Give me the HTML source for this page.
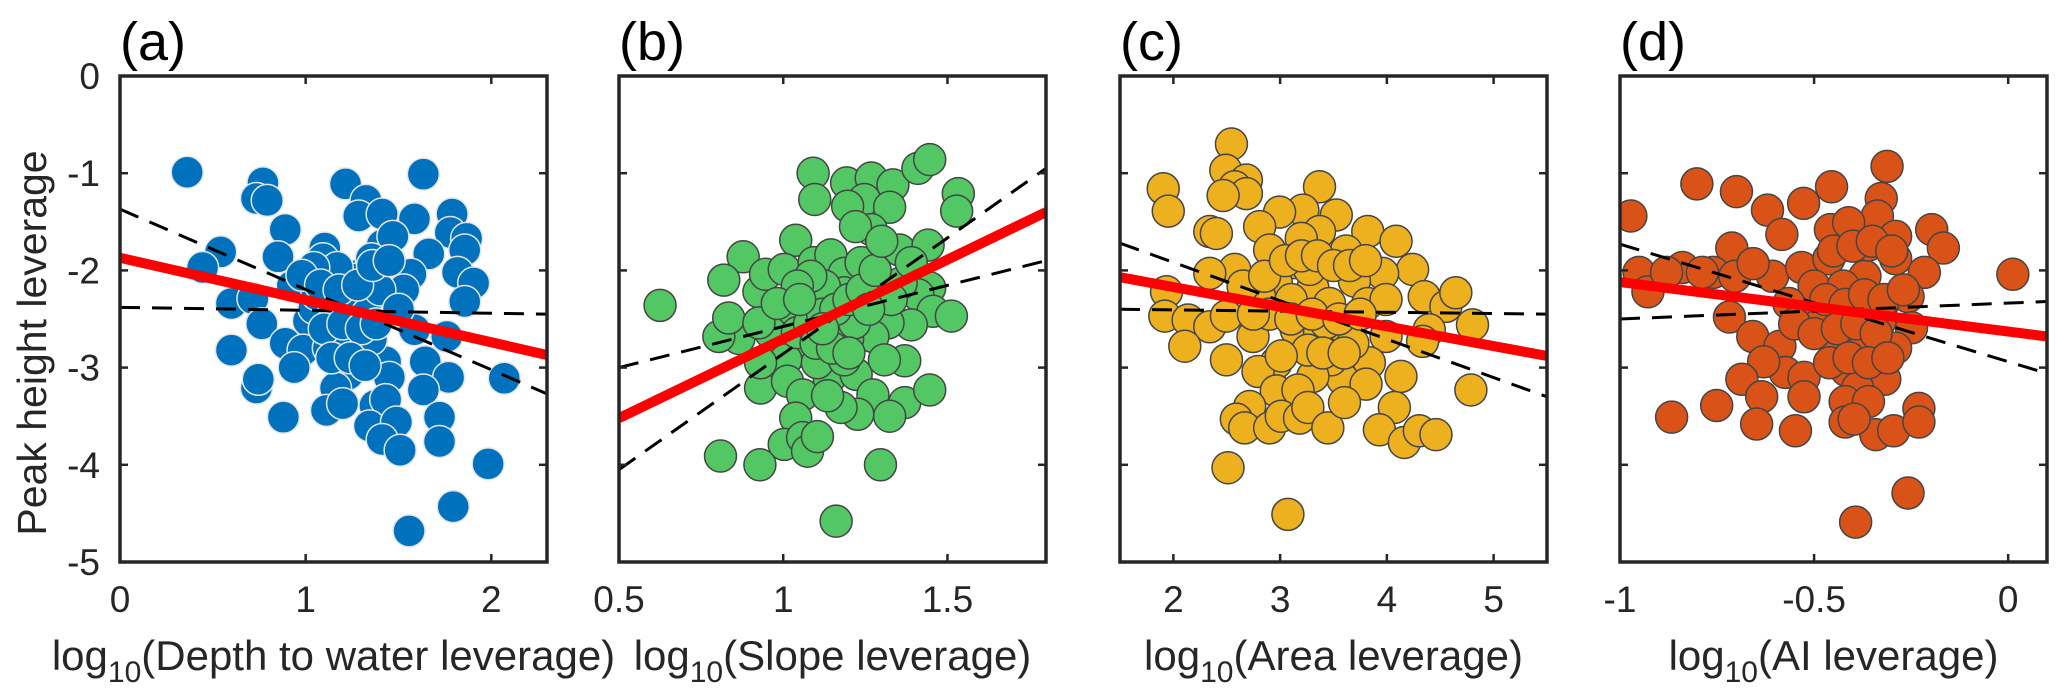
<!DOCTYPE html>
<html><head><meta charset="utf-8">
<style>
html,body{margin:0;padding:0;background:#fff;}
svg{display:block;font-family:"Liberation Sans",Arial,sans-serif;}
</style></head>
<body>
<svg id="fig" width="2067" height="699" viewBox="0 0 2067 699" xmlns="http://www.w3.org/2000/svg">
<text x="0" y="0" transform="translate(46,343) rotate(-90)" text-anchor="middle" font-size="41" fill="#262626">Peak height leverage</text>
</svg>
<script>
// Panel (a) data
const aX=[0.362,1.634,0.770,0.735,0.793,1.215,1.325,1.286,1.412,1.586,1.789,1.779,1.867,1.857,1.663,1.412,1.470,0.890,0.851,1.103,1.093,0.542,0.445,1.567,1.296,1.132,1.818,1.905,1.857,0.928,0.600,0.716,0.764,1.015,1.209,1.451,1.296,1.586,1.760,0.600,0.890,0.986,1.122,1.267,1.431,1.644,1.770,2.070,0.938,1.228,0.735,0.745,1.161,1.451,1.634,1.112,1.199,1.373,1.431,1.721,1.344,1.489,0.880,1.412,1.509,1.721,1.983,1.795,1.557,1.267,1.354,1.170,1.044,1.528,1.219,1.354,1.044,1.06,1.15,1.25,1.33,1.40,1.10,1.20,1.30,1.38,0.98,1.08,1.18,1.28,1.36,1.45,1.50,1.14,1.24,1.32];
const aY=[-0.99,-1.01,-1.10,-1.26,-1.28,-1.11,-1.28,-1.44,-1.42,-1.47,-1.42,-1.61,-1.67,-1.79,-1.83,-1.74,-1.65,-1.58,-1.86,-1.77,-1.88,-1.81,-1.97,-2.04,-2.04,-2.13,-2.02,-2.13,-2.32,-2.16,-2.34,-2.29,-2.55,-2.52,-2.48,-2.27,-2.39,-2.61,-2.68,-2.82,-2.75,-2.82,-2.80,-2.84,-2.94,-2.94,-3.10,-3.11,-3.00,-3.07,-3.21,-3.12,-3.21,-3.10,-3.23,-3.44,-3.37,-3.39,-3.33,-3.51,-3.60,-3.56,-3.51,-3.74,-3.85,-3.76,-3.99,-4.43,-4.68,-2.09,-1.88,-1.97,-1.97,-2.20,-2.71,-2.71,-2.39,-2.25,-2.35,-2.30,-2.45,-2.20,-2.60,-2.55,-2.60,-2.55,-2.05,-2.15,-2.20,-2.15,-1.95,-1.90,-2.40,-2.90,-2.90,-2.98];
// Panel (b) data
const bX=[0.625,1.091,1.096,1.193,1.268,1.334,1.410,1.446,1.533,1.528,1.247,1.324,1.196,1.268,1.038,0.878,0.819,0.926,0.946,1.003,1.094,1.145,1.186,1.237,1.354,1.441,1.446,1.410,1.456,1.512,1.390,1.319,1.273,1.196,1.145,1.084,1.064,1.023,0.962,0.865,0.804,0.834,0.926,1.054,1.008,0.931,1.013,1.059,1.140,1.222,1.273,1.370,1.370,1.446,1.324,1.227,1.176,1.038,1.003,1.059,1.074,0.809,0.929,1.296,1.161,1.104,1.135,1.308,1.247,1.186,1.125,1.084,1.043,0.982,0.931,1.043,1.135,1.217,1.288,1.359,1.390,1.329,1.104,1.186,1.08,1.12,1.16,1.20,1.24,1.10,1.15,1.20,1.26,1.05,1.12,1.28,1.22,1.30];
const bY=[-2.36,-1.00,-1.27,-1.10,-1.05,-1.12,-0.95,-0.86,-1.21,-1.39,-1.27,-1.35,-1.34,-1.58,-1.69,-1.86,-2.10,-2.22,-2.04,-1.99,-1.92,-1.84,-2.03,-1.92,-1.79,-1.74,-2.18,-2.25,-2.42,-2.47,-2.56,-2.54,-2.68,-2.71,-2.47,-2.34,-2.40,-2.47,-2.64,-2.70,-2.68,-2.49,-2.54,-2.83,-2.92,-3.21,-3.14,-3.28,-3.11,-3.07,-3.28,-2.93,-3.36,-3.23,-3.50,-3.48,-3.41,-3.52,-3.79,-3.72,-3.86,-3.91,-4.00,-4.00,-4.58,-3.71,-3.29,-2.92,-2.34,-2.23,-2.16,-2.06,-2.16,-2.34,-2.95,-2.64,-2.68,-2.54,-2.13,-2.13,-1.92,-2.30,-2.95,-2.92,-2.55,-2.45,-2.40,-2.30,-2.20,-2.75,-2.80,-2.85,-2.40,-2.30,-2.60,-2.00,-1.55,-1.70];
// Panel (c) data
const cX=[2.544,2.491,2.684,2.575,2.684,2.466,1.905,1.952,2.341,2.403,3.369,3.213,2.995,2.808,3.526,3.369,3.198,2.902,3.821,4.086,3.618,3.136,4.241,3.960,3.696,3.307,2.964,2.575,2.341,1.936,1.920,2.138,2.341,2.497,2.107,2.497,2.746,3.151,3.369,3.587,3.821,3.992,4.350,4.553,4.646,4.802,4.397,4.335,3.992,3.836,4.132,3.587,3.478,3.307,2.964,2.793,2.964,3.167,3.805,2.715,2.590,2.668,2.902,3.011,3.182,3.260,3.447,3.603,4.070,3.930,4.164,4.304,4.460,4.787,2.512,3.073,3.431,3.026,2.808,2.653,3.276,3.463,3.681,3.260,3.011,2.855,3.104,3.05,3.20,3.35,3.50,3.65,3.80,2.90,3.10,3.30,3.55,3.75,2.75,3.40,3.60];
const cY=[-0.70,-0.97,-1.07,-1.14,-1.21,-1.23,-1.16,-1.39,-1.60,-1.62,-1.14,-1.38,-1.40,-1.55,-1.43,-1.60,-1.67,-1.79,-1.60,-1.70,-1.80,-1.92,-1.99,-2.03,-2.11,-2.18,-2.13,-1.99,-2.03,-2.22,-2.47,-2.51,-2.58,-2.47,-2.78,-2.92,-2.68,-2.61,-2.64,-2.58,-2.34,-2.30,-2.27,-2.37,-2.23,-2.56,-2.61,-2.73,-2.68,-2.95,-3.09,-3.12,-2.92,-3.09,-2.95,-3.04,-3.24,-3.23,-3.17,-3.40,-3.53,-3.62,-3.62,-3.50,-3.52,-3.41,-3.62,-3.36,-3.41,-3.64,-3.77,-3.65,-3.69,-3.23,-4.03,-4.51,-2.54,-2.44,-2.27,-2.16,-1.99,-2.34,-2.75,-2.82,-2.88,-2.06,-2.30,-1.90,-1.85,-1.85,-1.95,-1.95,-1.90,-2.45,-2.50,-2.45,-2.50,-2.45,-2.45,-2.85,-2.85];
// Panel (d) data
const dX=[-0.972,-0.802,-0.700,-0.620,-0.527,-0.455,-0.312,-0.327,-0.337,-0.197,-0.167,-0.583,-0.458,-0.411,-0.712,-0.951,-0.928,-0.839,-0.760,-0.704,-0.607,-0.532,-0.462,-0.369,-0.290,-0.216,0.012,-0.258,-0.323,-0.462,-0.527,-0.718,-0.658,-0.588,-0.379,-0.249,-0.443,-0.309,-0.290,-0.574,-0.526,-0.630,-0.416,-0.318,-0.686,-0.388,-0.635,-0.526,-0.420,-0.360,-0.867,-0.751,-0.648,-0.548,-0.420,-0.341,-0.295,-0.230,-0.230,-0.397,-0.258,-0.393,-0.5,-0.425,-0.397,-0.49,-0.565,-0.33,-0.36,-0.29,-0.657,-0.788,-0.88,-0.45,-0.40,-0.35,-0.30,-0.47,-0.42,-0.37,-0.32,-0.27,-0.55,-0.50,-0.44,-0.39,-0.34,-0.46,-0.41,-0.36,-0.31];
const dY=[-1.44,-1.11,-1.19,-1.38,-1.31,-1.14,-0.93,-1.26,-1.44,-1.58,-1.77,-1.63,-1.58,-1.51,-1.77,-2.02,-2.22,-1.97,-2.02,-2.06,-2.06,-1.97,-1.88,-2.06,-1.88,-2.02,-2.04,-2.27,-2.34,-2.39,-2.45,-2.48,-2.68,-2.78,-2.68,-2.59,-2.80,-2.89,-2.80,-3.05,-3.10,-2.94,-3.03,-3.12,-3.12,-3.21,-3.30,-3.30,-3.35,-3.35,-3.51,-3.39,-3.58,-3.65,-3.56,-3.69,-3.65,-3.42,-3.56,-3.53,-4.29,-4.59,-2.16,-2.16,-2.52,-2.57,-2.34,-2.52,-1.74,-1.65,-1.93,-2.02,-2.02,-1.80,-1.75,-1.70,-1.80,-2.30,-2.35,-2.25,-2.30,-2.20,-2.55,-2.65,-2.60,-2.55,-2.65,-2.95,-2.90,-2.95,-2.90];
// Fit line endpoints [y at xmin, y at xmax]
const aFit=[-1.87,-2.87], aCiUp=[-1.37,-3.27], aCiLo=[-2.38,-2.45];
const bFit=[-3.52,-1.40], bCiUp=[-3.00,-1.90], bCiLo=[-4.05,-0.95];
const cFit=[-2.07,-2.88], cCiUp=[-1.72,-3.30], cCiLo=[-2.40,-2.45];
const dFit=[-2.12,-2.68], dCiUp=[-1.73,-3.06], dCiLo=[-2.50,-2.32];
// Ticks
const yTicks=[0,-1,-2,-3,-4,-5];
const yTickLabels=['0','-1','-2','-3','-4','-5'];
const aTicks=[0,1,2], aTickLabels=['0','1','2'];
const bTicks=[0.5,1,1.5], bTickLabels=['0.5','1','1.5'];
const cTicks=[2,3,4,5], cTickLabels=['2','3','4','5'];
const dTicks=[-1,-0.5,0], dTickLabels=['-1','-0.5','0'];

const NS='http://www.w3.org/2000/svg';
const svg=document.getElementById('fig');
function mk(tag,attrs,parent){const e=document.createElementNS(NS,tag);for(const k in attrs)e.setAttribute(k,attrs[k]);(parent||svg).appendChild(e);return e;}

const panels=[
 {id:'a',left:120,xmin:0,xmax:2.3,X:aX,Y:aY,fit:aFit,up:aCiUp,lo:aCiLo,ticks:aTicks,tl:aTickLabels,fill:'#0072BD',edge:'#e6e6e6',title:'Depth to water leverage',yl:true},
 {id:'b',left:619,xmin:0.5,xmax:1.8,X:bX,Y:bY,fit:bFit,up:bCiUp,lo:bCiLo,ticks:bTicks,tl:bTickLabels,fill:'#52C763',edge:'#454545',title:'Slope leverage'},
 {id:'c',left:1120,xmin:1.5,xmax:5.5,X:cX,Y:cY,fit:cFit,up:cCiUp,lo:cCiLo,ticks:cTicks,tl:cTickLabels,fill:'#EDB120',edge:'#454545',title:'Area leverage'},
 {id:'d',left:1620,xmin:-1,xmax:0.1,X:dX,Y:dY,fit:dFit,up:dCiUp,lo:dCiLo,ticks:dTicks,tl:dTickLabels,fill:'#D95319',edge:'#454545',title:'AI leverage'}
];
const W=427, TOP=76, BOT=562, YMIN=-5, YMAX=0;
panels.forEach(p=>{
 const sx=v=>p.left+(v-p.xmin)/(p.xmax-p.xmin)*W;
 const sy=v=>TOP+(YMAX-v)/(YMAX-YMIN)*(BOT-TOP);
 const g=mk('g',{});
 
 
 const clipId='clip'+p.id;
 const cp=mk('clipPath',{id:clipId},g);
 mk('rect',{x:p.left,y:TOP,width:W,height:BOT-TOP},cp);
 const pts=mk('g',{'clip-path':'url(#'+clipId+')'},g);
 
 
 p.X.forEach((x,i)=>{
  const c=mk('circle',{cx:sx(x),cy:sy(p.Y[i]),r:16,fill:p.fill,stroke:p.edge,'stroke-width':1.5},pts);
  
  
 });
 const ln=mk('g',{'clip-path':'url(#'+clipId+')'},g);
 [p.up,p.lo].forEach((ci,k)=>{
  const l=mk('line',{x1:sx(p.xmin),y1:sy(ci[0]),x2:sx(p.xmax),y2:sy(ci[1]),stroke:'#000','stroke-width':3,'stroke-dasharray':'20,12'},ln);
  
  
 });
 const f=mk('line',{x1:sx(p.xmin),y1:sy(p.fit[0]),x2:sx(p.xmax),y2:sy(p.fit[1]),stroke:'#FF0000','stroke-width':10},ln);
 
 
 const box=mk('rect',{x:p.left,y:TOP,width:W,height:BOT-TOP,fill:'none',stroke:'#262626','stroke-width':3.5},g);
 
 
 p.ticks.forEach((t,i)=>{
  const x=sx(t);
  mk('line',{x1:x,y1:BOT,x2:x,y2:BOT-8,stroke:'#262626','stroke-width':2.5},g);
  mk('line',{x1:x,y1:TOP,x2:x,y2:TOP+8,stroke:'#262626','stroke-width':2.5},g);
  const tx=mk('text',{x:x,y:612,'text-anchor':'middle','font-size':37,fill:'#262626'},g);
  tx.textContent=p.tl[i];
  
  
 });
 yTicks.forEach((t,i)=>{
  const y=sy(t);
  mk('line',{x1:p.left,y1:y,x2:p.left+8,y2:y,stroke:'#262626','stroke-width':2.5},g);
  mk('line',{x1:p.left+W,y1:y,x2:p.left+W-8,y2:y,stroke:'#262626','stroke-width':2.5},g);
  if(p.yl){
   const ty=mk('text',{x:p.left-20,y:y+13,'text-anchor':'end','font-size':37,fill:'#262626'},g);
   ty.textContent=yTickLabels[i];
   
   
  }
 });
 const lt=mk('text',{x:p.left,y:60,'font-size':54,fill:'#000'},g);
 lt.textContent='('+p.id+')';
 
 
 const xt=mk('text',{x:p.left+W/2,y:670,'text-anchor':'middle','font-size':42,fill:'#262626'},g);
 
 
 const s1=mk('tspan',{},xt); s1.textContent='log';
 const s2=mk('tspan',{dy:12,'font-size':30},xt); s2.textContent='10';
 const s3=mk('tspan',{dy:-12},xt); s3.textContent='('+p.title+')';
});
</script>
</body></html>
